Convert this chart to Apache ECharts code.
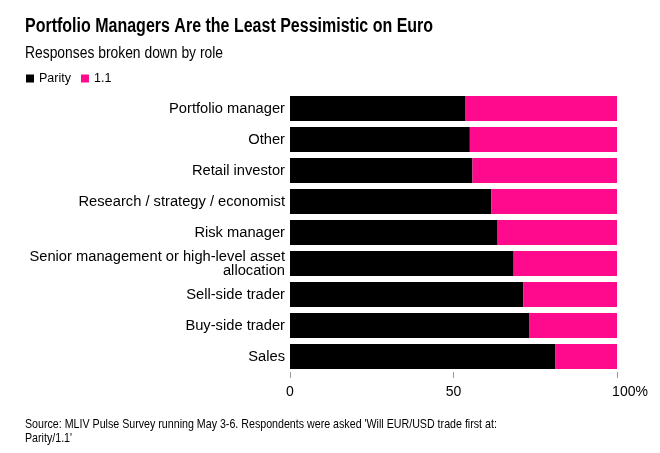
<!DOCTYPE html>
<html>
<head>
<meta charset="utf-8">
<script src="https://cdn.jsdelivr.net/npm/echarts@6/dist/echarts.min.js"></script>
<style>
html,body{margin:0;padding:0;background:#fff;}
#c{width:660px;height:453px;}
</style>
</head>
<body>
<div id="c"></div>
<script>
var categories = ["Portfolio manager", "Other", "Retail investor", "Research / strategy / economist", "Risk manager", "Senior management or high-level asset\nallocation", "Sell-side trader", "Buy-side trader", "Sales"];
var parityValues = [53.7, 55.0, 55.8, 61.6, 63.5, 68.4, 71.4, 73.1, 81.2];
var oneOneValues = [46.3, 45.0, 44.2, 38.4, 36.5, 31.6, 28.6, 26.9, 18.8];
var xTicks = [0, 50, 100];
var titleText = 'Portfolio Managers Are the Least Pessimistic on Euro';
var subtitleText = 'Responses broken down by role';
var sourceText = "Source: MLIV Pulse Survey running May 3-6. Respondents were asked 'Will EUR/USD trade first at:\nParity/1.1'";

var regular = "'Liberation Sans', Arial, sans-serif";

var chart = echarts.init(document.getElementById('c'));
chart.setOption({
  backgroundColor: '#fff',
  animation: false,
  graphic: [
    {type: 'text', x: 25, y: 16, scaleX: 0.8, silent: true,
     style: {text: titleText, x: 0, y: 0, align: 'left', verticalAlign: 'top',
             font: 'bold 20px ' + regular, fill: '#000'}},
    {type: 'text', x: 25, y: 45, scaleX: 0.84, silent: true,
     style: {text: subtitleText, x: 0, y: 0, align: 'left', verticalAlign: 'top',
             font: '16.5px ' + regular, fill: '#000'}},
    {type: 'text', x: 25, y: 418, scaleX: 0.82, silent: true,
     style: {text: sourceText, x: 0, y: 0, align: 'left', verticalAlign: 'top',
             font: '13px ' + regular, lineHeight: 13.5, fill: '#000'}}
  ],
  legend: {
    left: 26, top: 72, padding: 0, icon: 'rect', itemWidth: 8, itemHeight: 8, itemGap: 10,
    textStyle: {fontFamily: regular, fontSize: 12.5, color: '#000'},
    data: ['Parity', '1.1']
  },
  grid: {left: 290, right: 43, top: 93, bottom: 81, containLabel: false},
  xAxis: {
    type: 'value', min: 0, max: 100, interval: 50,
    splitLine: {show: false},
    axisLine: {show: false},
    axisTick: {show: true, length: 6, lineStyle: {color: '#999'}},
    axisLabel: {
      margin: 13, fontFamily: regular, fontSize: 14, color: '#000',
      formatter: function (v) { return v === xTicks[2] ? '{s| }{t|100%}' : String(v); },
      rich: {
        s: {width: 26, fontSize: 14, fontFamily: regular},
        t: {fontSize: 14, fontFamily: regular, color: '#000'}
      }
    }
  },
  yAxis: {
    type: 'category', inverse: true, data: categories,
    axisLine: {show: false}, axisTick: {show: false},
    axisLabel: {margin: 5, fontFamily: regular, fontSize: 14.7, lineHeight: 14, color: '#000'}
  },
  series: [
    {name: 'Parity', type: 'bar', stack: 'a', data: parityValues, barCategoryGap: '20%',
     itemStyle: {color: '#000'}},
    {name: '1.1', type: 'bar', stack: 'a', data: oneOneValues,
     itemStyle: {color: '#ff0a8c'}}
  ]
});
</script>
</body>
</html>
